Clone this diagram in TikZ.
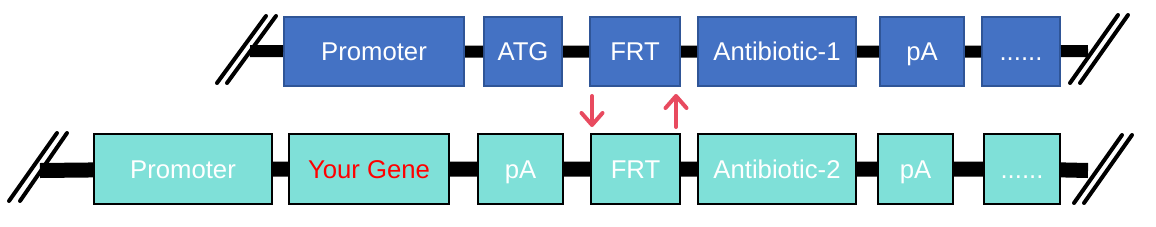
\documentclass[tikz,border=0pt]{standalone}
\usepackage{fontspec}
\setmainfont{Liberation Sans}
\usepackage{tikz}
\usetikzlibrary{arrows.meta}

\definecolor{boxblue}{HTML}{4472C4}
\definecolor{edgeblue}{HTML}{2F5597}
\definecolor{boxteal}{HTML}{7FE0D8}
\definecolor{arrowred}{HTML}{E84A5F}

\begin{document}
\begin{tikzpicture}[x=1pt,y=-1pt,
  topbox/.style={rectangle,draw=edgeblue,fill=boxblue,line width=2pt,inner sep=0pt,
    minimum height=69pt,text height=18.4pt,text depth=0pt,text=white,
    font=\fontsize{25.7}{30}\selectfont},
  botbox/.style={rectangle,draw=black,fill=boxteal,line width=2pt,inner sep=0pt,
    minimum height=70pt,text height=18.4pt,text depth=0pt,text=white,
    font=\fontsize{25.7}{30}\selectfont},
  backbone/.style={line width=#1},
  cut/.style={line width=4pt,line cap=round},
  swap/.style={arrowred,line width=4pt,line cap=round,
    -{Straight Barb[length=12pt,width=21pt,line width=4pt,round]}}]
\useasboundingbox (0,0) rectangle (1156,226);
% upper construct
\coordinate (l1) at (250,51);
\coordinate (r1) at (1088,51);
\node[topbox,minimum width=180pt] (pro1) at (374,51.5) {Promoter};
\node[topbox,minimum width=78pt] (atg1) at (523,51.5) {ATG};
\node[topbox,minimum width=90pt] (frt1) at (635,51.5) {FRT};
\node[topbox,minimum width=158pt] (ab1) at (777,51.5) {Antibiotic-1};
\node[topbox,minimum width=84pt] (pa1) at (922,51.5) {pA};
\node[topbox,minimum width=78pt] (etc1) at (1021,51.5) {......};
\draw[backbone=12pt] (l1) -- (pro1) (pro1) -- (atg1) (atg1) -- (frt1)
  (frt1) -- (ab1) (ab1) -- (pa1) (pa1) -- (etc1) (etc1) -- (r1);
\draw[cut] (217,83) -- (266,16) (227,83) -- (276,16);
\draw[cut] (1070,83) -- (1118,15) (1080,83) -- (1128,15);
% lower construct
\coordinate (l2) at (40,170.5);
\coordinate (r2) at (1088,170.5);
\node[botbox,minimum width=178pt] (pro2) at (183,169) {Promoter};
\node[botbox,minimum width=160pt,text=red] (gene2) at (369,169) {Your Gene};
\node[botbox,minimum width=85pt] (pa2) at (520.5,169) {pA};
\node[botbox,minimum width=89pt] (frt2) at (635.5,169) {FRT};
\node[botbox,minimum width=158pt] (ab2) at (777,169) {Antibiotic-2};
\node[botbox,minimum width=75pt] (pa3) at (915.5,169) {pA};
\node[botbox,minimum width=76pt] (etc2) at (1022,169) {......};
\draw[backbone=15pt] (l2) -- (pro2) (pro2) -- (gene2) (gene2) -- (pa2) (pa2) -- (frt2)
  (frt2) -- (ab2) (ab2) -- (pa3) (pa3) -- (etc2) (etc2) -- (r2);
\draw[cut] (9,201) -- (57,133) (20,201) -- (67,133);
\draw[cut] (1074,203) -- (1122,135) (1084,203) -- (1132,135);
% exchange at FRT
\draw[swap] ([xshift=3pt,yshift=-9pt]frt1.south west) -- ([xshift=2pt,yshift=6pt]frt2.north west);
\draw[swap] ([xshift=-5pt,yshift=6pt]frt2.north east) -- ([xshift=-5pt,yshift=-7pt]frt1.south east);
\end{tikzpicture}
\end{document}
